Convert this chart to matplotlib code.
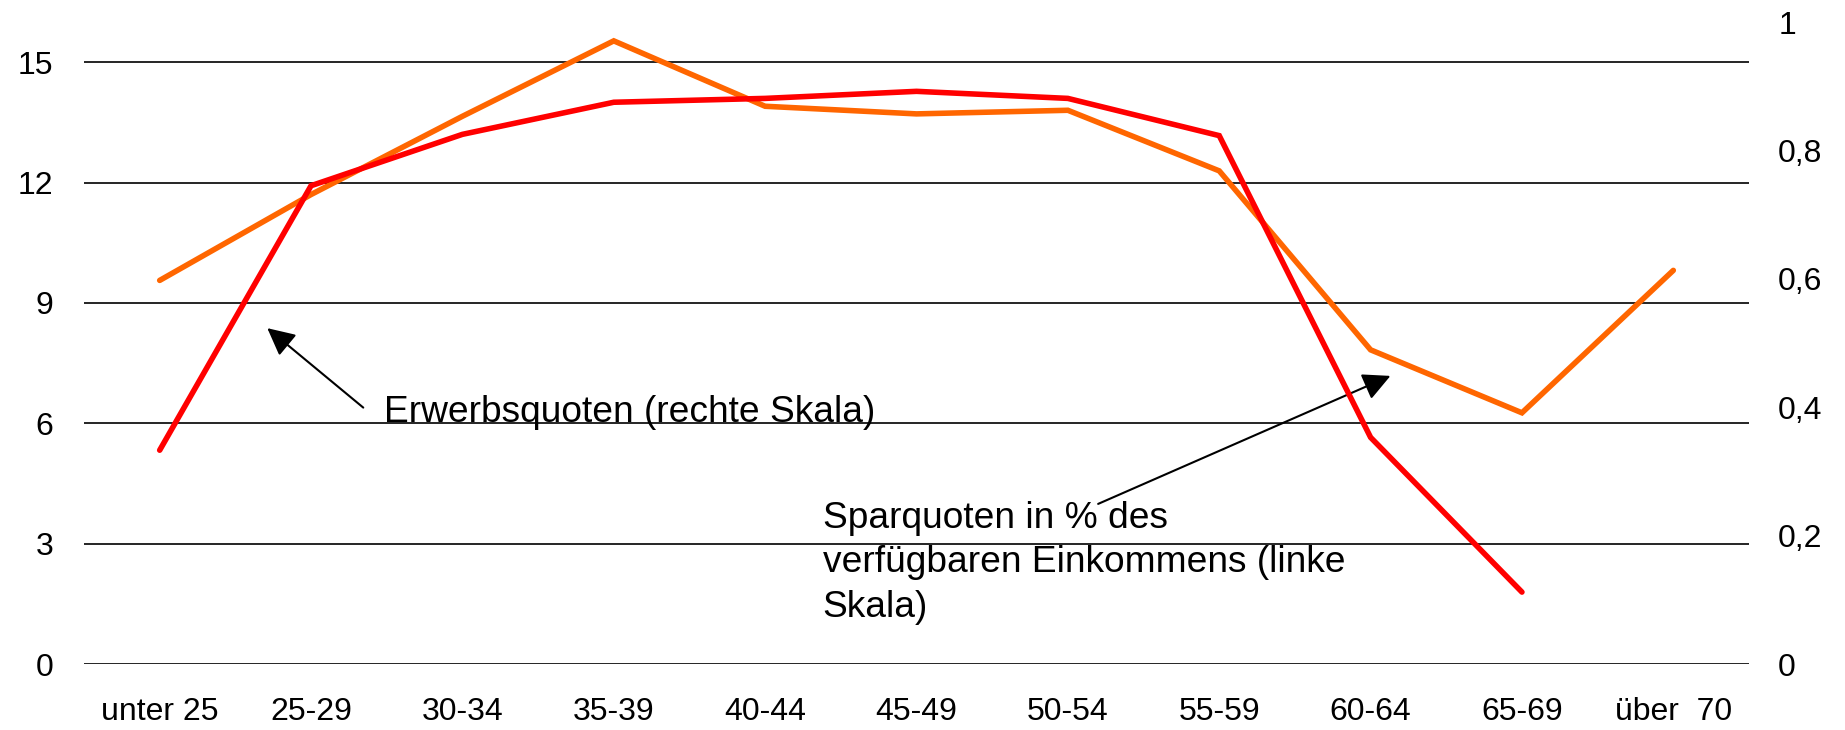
import matplotlib
matplotlib.use("Agg")
from matplotlib import pyplot as plt

plt.rcParams['font.family'] = ['Liberation Sans', 'DejaVu Sans']

# age groups
altersgruppen = ["unter 25", "25-29", "30-34", "35-39", "40-44", "45-49",
                 "50-54", "55-59", "60-64", "65-69", "über  70"]

# Sparquoten in % des verfuegbaren Einkommens (linke Skala)
sparquoten = [9.56, 11.7, 13.65, 15.53, 13.90, 13.71, 13.80, 12.29, 7.83, 6.26, 9.81]

# Erwerbsquoten (rechte Skala), none for ueber 70
erwerbsquoten = [0.333, 0.745, 0.825, 0.875, 0.881, 0.892, 0.881, 0.823, 0.353, 0.112]

links_ticks = [0, 3, 6, 9, 12, 15]
rechts_ticks = [0, 0.2, 0.4, 0.6, 0.8, 1.0]
rechts_labels = ["0", "0,2", "0,4", "0,6", "0,8", "1"]

fig = plt.figure(figsize=(18.45, 7.3), dpi=100)
ax = fig.add_axes([84/1845, 1 - 664/730, (1749-84)/1845, (664-22)/730])

x = list(range(len(altersgruppen)))

for t in links_ticks:
    ax.axhline(t, color="black", lw=1.2, zorder=1)

ax.plot(x, sparquoten, color="#FF6600", lw=4.0, solid_capstyle="round",
        solid_joinstyle="miter", zorder=3)

ax.set_xlim(-0.5, len(altersgruppen) - 0.5)
ax.set_ylim(0, 16)
ax.set_yticks(links_ticks)
ax.set_yticklabels([str(t) for t in links_ticks])
ax.set_xticks(x)
ax.set_xticklabels(altersgruppen)
ax.tick_params(axis="y", length=0, pad=22, labelsize=23)
ax.tick_params(axis="x", length=0, pad=24, labelsize=23)
for s in ax.spines.values():
    s.set_visible(False)

ax2 = ax.twinx()
ax2.plot(x[:len(erwerbsquoten)], erwerbsquoten, color="#FF0000", lw=4.0,
         solid_capstyle="round", solid_joinstyle="miter", zorder=4)
ax2.set_ylim(0, 1)
ax2.set_yticks(rechts_ticks)
ax2.set_yticklabels(rechts_labels)
ax2.tick_params(axis="y", length=0, pad=21, labelsize=23)
for s in ax2.spines.values():
    s.set_visible(False)

pfeil = dict(arrowstyle="-|>", mutation_scale=42, lw=1.5, color="black",
             shrinkA=0, shrinkB=0)

ax2.annotate("", xy=(0.711, 8.37), xytext=(1.345, 6.39), xycoords=ax.transData,
             textcoords=ax.transData, arrowprops=pfeil)
ax2.text(1.481, 6.04, "Erwerbsquoten (rechte Skala)", transform=ax.transData,
         fontsize=26.7, va="baseline", ha="left")

ax2.annotate("", xy=(8.131, 7.18), xytext=(6.200, 3.99), xycoords=ax.transData,
             textcoords=ax.transData, arrowprops=pfeil)
# baseline of multi-line text = last line
ax2.text(4.379, 1.18, "Sparquoten in % des\nverfügbaren Einkommens (linke\nSkala)",
         transform=ax.transData, fontsize=26.7, va="baseline", ha="left",
         linespacing=1.35)

fig.savefig("out.png", dpi=100)
